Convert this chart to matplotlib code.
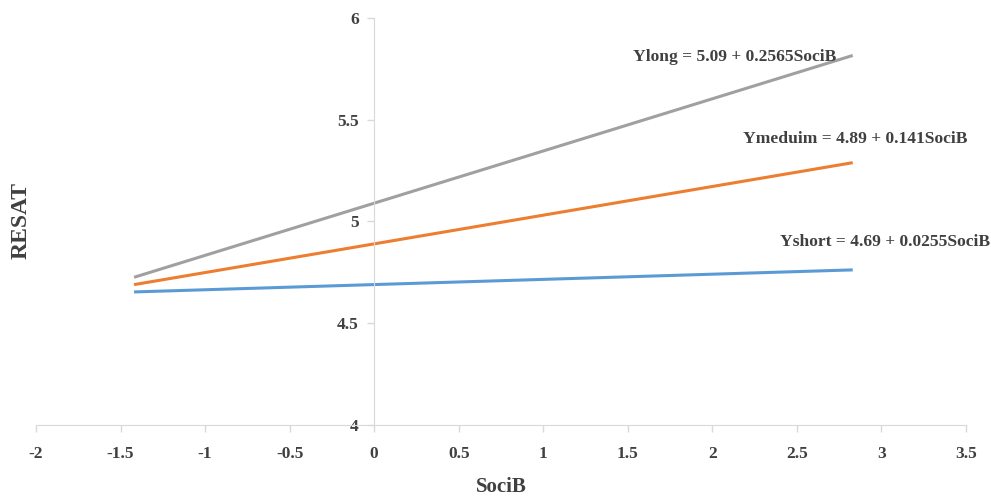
import numpy as np
import matplotlib.pyplot as plt

plt.rcParams['font.family'] = ['Liberation Serif', 'DejaVu Serif']

# SociB range (low / high) and regression lines
soci_range = [-1.42, 2.83]
groups = ['Yshort', 'Ymeduim', 'Ylong']
intercepts = [4.69, 4.89, 5.09]
slopes = [0.0255, 0.141, 0.2565]
slope_txt = ['0.0255', '0.141', '0.2565']
colors = ['#5B9BD5', '#ED7D31', '#A0A0A0']
label_pos = [(2.40, 4.90), (2.18, 5.405), (1.53, 5.81)]

x_ticks = [-2, -1.5, -1, -0.5, 0, 0.5, 1, 1.5, 2, 2.5, 3, 3.5]
y_ticks = [4, 4.5, 5, 5.5, 6]

fig = plt.figure(figsize=(9.91, 4.97), dpi=100)
ax = fig.add_axes([0.0363, 0.1449, 0.9385, 0.8189])

xs = np.array(soci_range)
for name, b0, b1, st, c, (tx, ty) in zip(groups, intercepts, slopes, slope_txt, colors, label_pos):
    ax.plot(xs, b0 + b1 * xs, color=c, lw=2.2, solid_capstyle='butt')
    ax.text(tx, ty, f'{name} = {b0:.2f} + {st}SociB', fontsize=12.6, fontweight='bold',
            color='#404040', va='center', ha='left')

ax.set_xlim(-2, 3.5)
ax.set_ylim(4, 6)
ax.set_xticks(x_ticks)
ax.set_xticklabels([f'{t:g}' for t in x_ticks])
ax.set_yticks(y_ticks)
ax.set_yticklabels([f'{t:g}' for t in y_ticks])

for s in ['top', 'right']:
    ax.spines[s].set_visible(False)
ax.spines['left'].set_position(('data', 0))
ax.spines['left'].set_color('#D9D9D9')
ax.spines['bottom'].set_color('#D9D9D9')
ax.tick_params(colors='#D9D9D9', labelcolor='#404040', length=5, width=1)
ax.tick_params(axis='x', pad=10)
ax.tick_params(axis='y', pad=6)
for lab in ax.get_xticklabels() + ax.get_yticklabels():
    lab.set_fontweight('bold')
    lab.set_fontsize(12.5)

fig.text(0.506, 0.02, 'SociB', ha='center', va='center', fontsize=15,
         fontweight='bold', color='#404040')
fig.text(0.021, 0.557, 'RESAT', ha='center', va='center', rotation=90, fontsize=17,
         fontweight='bold', color='#404040')

fig.savefig('out.png', dpi=100)
